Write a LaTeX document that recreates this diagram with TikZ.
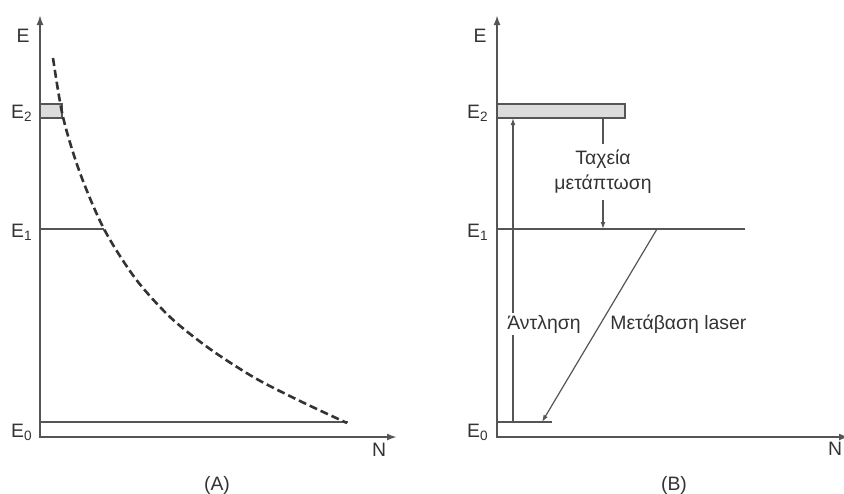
\documentclass[tikz,border=0pt]{standalone}
\usepackage{fontspec}
\setmainfont{Liberation Sans}
\usetikzlibrary{arrows.meta}
\definecolor{linegray}{HTML}{555555}
\definecolor{bandgray}{HTML}{DCDCDC}
\definecolor{textgray}{HTML}{333333}

\begin{document}
\begin{tikzpicture}[x=0.5pt, y=-0.5pt,
    every node/.style={font=\fontsize{9.7}{12.5}\selectfont, text=textgray},
    axis/.style={draw=linegray, line width=1pt, {Latex[length=5pt,width=3.5pt]}-{Latex[length=5pt,width=3.5pt]}},
    level/.style={draw=linegray, line width=0.75pt},
    band/.style={fill=bandgray, draw=linegray, line width=0.75pt},
    trans/.style={draw=linegray, line width=0.6pt, -{Latex[length=3.5pt,width=2.4pt]}},
    popcurve/.style={draw=black!80, line width=1.3pt, dash pattern=on 4pt off 2pt},
    lbl/.style={anchor=base east, inner sep=0pt}]
    \useasboundingbox (0,0) rectangle (844,493);

    % axes of both panels
    \foreach \ox/\xend in {40/397, 497/849} {
        \draw[axis] (\ox,15) -- (\ox,437) -- (\xend,437);
    }

    % panel (A)
    \draw[band] (40,104) rectangle (62,118);
    \draw[level] (40,229) -- (104,229);
    \draw[level] (40,422) -- (348,422);
    \draw[popcurve] plot[smooth] coordinates {(53,58) (63,117) (80,173) (104,229)
        (135,278) (170,317) (210,349) (255,378) (300,401) (347,423)};

    \node[anchor=base, inner sep=0pt] (eA) at (23,42) {E};
    \node[lbl] (etwoA) at (33,118) {E\textsubscript{2}};
    \node[lbl] (eoneA) at (33,237) {E\textsubscript{1}};
    \node[lbl] (ezeroA) at (33,437) {E\textsubscript{0}};
    \node (nA) at (379,450) {N};
    \node (capA) at (217,485) {(A)};

    % panel (B)
    \draw[band] (497,104) rectangle (625,118);
    \draw[level] (497,229) -- (745,229);
    \draw[level] (497,422) -- (552,422);

    \node[anchor=base, inner sep=0pt] (eB) at (480,42) {E};
    \node[lbl] (etwoB) at (489,118) {E\textsubscript{2}};
    \node[lbl] (eoneB) at (489,237) {E\textsubscript{1}};
    \node[lbl] (ezeroB) at (489,437) {E\textsubscript{0}};
    \node (nB) at (835,449) {N};
    \node (capB) at (674,485) {(B)};

    % transitions
    \coordinate (pumpbot) at (513,422);
    \coordinate (pumptop) at (513,118);
    \coordinate (decaytop) at (603,118);
    \coordinate (decaybot) at (603,229);
    \coordinate (lasertop) at (657,229);
    \coordinate (laserbot) at (542,422);

    \node[align=center, inner sep=3pt] (decay) at (603,172) {Ταχεία\\μετάπτωση};
    \draw[draw=linegray, line width=0.6pt] (decaytop) -- (decay);
    \draw[trans] (decay) -- (decaybot);

    \draw[trans] (pumpbot) -- (pumptop);
    \draw[trans] (lasertop) -- (laserbot);

    \node[fill=white, inner sep=1pt] (pump) at (544,324) {Άντληση};
    \node[anchor=west, inner sep=0pt] (laser) at (610,324) {Μετάβαση laser};
\end{tikzpicture}
\end{document}
